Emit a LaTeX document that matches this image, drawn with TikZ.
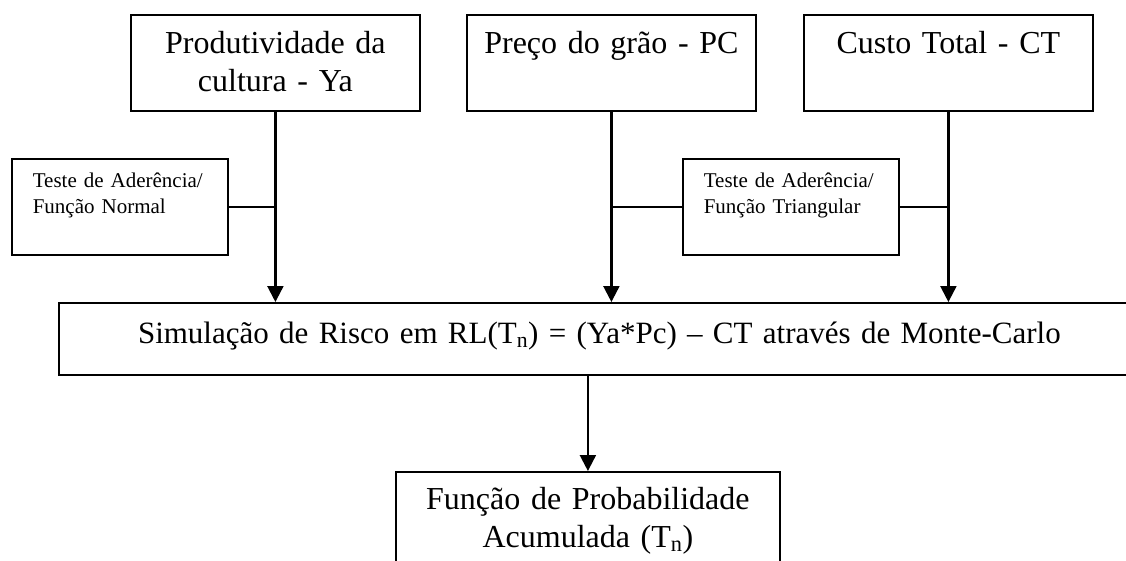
\documentclass[tikz,border=0pt]{standalone}
\usepackage{fontspec}
\setmainfont{Liberation Serif}
\usetikzlibrary{arrows.meta, positioning}
\begin{document}
\begin{tikzpicture}[
        x=1pt,y=-1pt,>={Triangle[length=16pt,width=16pt]},
        caixa/.style={draw, line width=1.8pt, inner sep=0pt, anchor=north west, align=center,
          font=\fontsize{32}{38}\selectfont},
        teste/.style={draw, line width=1.6pt, inner ysep=0pt, inner xsep=21pt, anchor=north west,
          align=left, text width=174pt, text height=29pt, text depth=67pt,
          font=\fontsize{21}{26}\selectfont},
        seta/.style={->, line width=2.2pt},
        liga/.style={line width=1.5pt},
        ]
        \useasboundingbox (0,0) rectangle (1126,560);
        \clip (0,0) rectangle (1126,560);
        \node[caixa, text width=289pt, text height=39pt, text depth=57pt] (ya) at (130,14)
          {Produtividade da\\cultura - Ya};
        \node[caixa, text width=289pt, text height=39pt, text depth=57pt] (pc) at (466,14)
          {Preço do grão - PC};
        \node[caixa, text width=289pt, text height=39pt, text depth=57pt] (ct) at (803,14)
          {Custo Total - CT};
        \node[teste] (t_1) at (11,158) {Teste de Aderência/\\Função Normal};
        \node[teste] (t_2) at (682,158) {Teste de Aderência/\\Função Triangular};
        \node[caixa, text width=1081pt, text height=41pt, text depth=31pt,
          font=\fontsize{31}{38}\selectfont] (rl) at (58,302)
          {Simulação de Risco em RL(T\textsubscript{n}) = (Ya*Pc) – CT através de Monte-Carlo};
        \node[caixa, text width=384pt, text height=38pt, text depth=72pt] (fpa) at (395,471)
          {Função de Probabilidade\\Acumulada (T\textsubscript{n})};

        \draw[seta] (ya) -- (ya |- rl.north);
        \draw[seta] (pc) -- (pc |- rl.north);
        \draw[seta] (ct) -- (ct |- rl.north);
        \draw[liga] (t_1.east) -- (t_1.east -| ya);
        \draw[liga] (t_2.west) -- (t_2.west -| pc);
        \draw[liga] (t_2.east) -- (t_2.east -| ct);
        \draw[seta] (fpa.north |- rl.south) -- (fpa.north);
      \end{tikzpicture}
\end{document}
